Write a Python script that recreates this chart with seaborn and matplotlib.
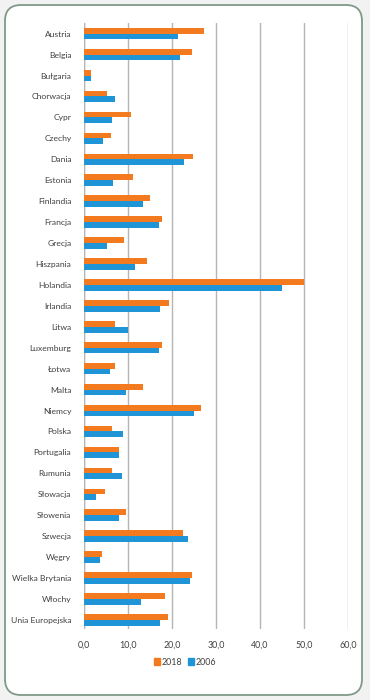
import pandas as pd
import matplotlib
matplotlib.use("Agg")
import matplotlib.pyplot as plt
import matplotlib.patches as mpatches
import seaborn as sns

# data
countries = ['Austria', 'Belgia', 'Bułgaria', 'Chorwacja', 'Cypr', 'Czechy', 'Dania',
             'Estonia', 'Finlandia', 'Francja', 'Grecja', 'Hiszpania', 'Holandia',
             'Irlandia', 'Litwa', 'Luxemburg', 'Łotwa', 'Malta', 'Niemcy', 'Polska',
             'Portugalia', 'Rumunia', 'Słowacja', 'Słowenia', 'Szwecja', 'Węgry',
             'Wielka Brytania', 'Włochy', 'Unia Europejska']
values_2018 = [27.3, 24.5, 1.6, 5.2, 10.7, 6.1, 24.7, 11.1, 14.9, 17.8, 9.0, 14.4, 50.0,
               19.3, 7.0, 17.7, 7.0, 13.3, 26.7, 6.4, 8.0, 6.4, 4.8, 9.5, 22.6, 4.2,
               24.6, 18.3, 19.2]
values_2006 = [21.4, 21.9, 1.6, 7.0, 6.4, 4.3, 22.8, 6.7, 13.4, 17.0, 5.3, 11.5, 44.9,
               17.3, 9.9, 17.0, 5.8, 9.5, 25.0, 8.9, 8.0, 8.6, 2.7, 7.9, 23.6, 3.6,
               24.1, 13.0, 17.3]
years = ['2018', '2006']
x_ticks = [0, 10, 20, 30, 40, 50, 60]

df = pd.DataFrame({
    'kraj': countries * 2,
    'rok': [years[0]] * len(countries) + [years[1]] * len(countries),
    'wartosc': values_2018 + values_2006,
})

plt.rcParams['font.family'] = ['Lato', 'DejaVu Sans']

orange, blue = '#f47a20', '#1f95d8'

fig = plt.figure(figsize=(3.7, 7), dpi=100, facecolor='#f2f2f2')

# rounded frame around the chart (kept behind the axes)
frame = mpatches.FancyBboxPatch((5, 5), 357, 690,
                                boxstyle="round,pad=0,rounding_size=16",
                                transform=None, facecolor='white',
                                edgecolor='#7f9a88', linewidth=1.3, zorder=-10)
fig.patches.append(frame)

ax = fig.add_axes([0.227, 0.1009, 0.7135, 0.866])
ax.set_facecolor('none')
ax.set_zorder(5)
sns.barplot(data=df, y='kraj', x='wartosc', hue='rok', order=countries,
            hue_order=years, palette=[orange, blue], saturation=1, width=0.55,
            gap=0, ax=ax, legend=False)

ax.set_xlim(0, 60)
ax.set_ylim(28.45, -0.5)
ax.set_xticks(x_ticks)
ax.set_xticklabels([f"{v:.1f}".replace('.', ',') for v in x_ticks])
ax.xaxis.grid(True, color='#b5b5b5', linewidth=1)
ax.set_axisbelow(True)
for s in ax.spines.values():
    s.set_visible(False)
ax.axvline(0, color='#b5b5b5', linewidth=1, zorder=0)
ax.tick_params(axis='both', length=0, colors='#404040')
ax.tick_params(axis='y', pad=9, labelsize=6.1)
ax.tick_params(axis='x', pad=8, labelsize=6.4)
ax.set_xlabel('')
ax.set_ylabel('')

handles = [mpatches.Patch(color=orange), mpatches.Patch(color=blue)]
fig.legend(handles, years, loc='center', bbox_to_anchor=(0.5, 0.054), ncol=2,
           frameon=False, fontsize=6.4, handlelength=0.7, handleheight=0.7,
           handletextpad=0.15, columnspacing=0.6, labelcolor='#404040')

fig.savefig('out.png', dpi=100, facecolor=fig.get_facecolor())
